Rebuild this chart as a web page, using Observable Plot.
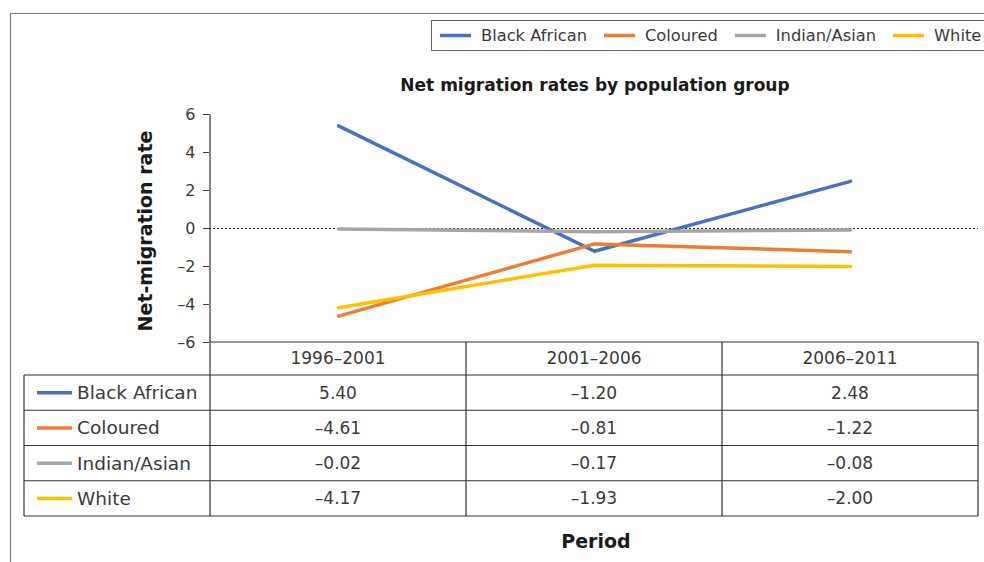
<!DOCTYPE html>
<html>
<head>
<meta charset="utf-8">
<script src="https://cdn.jsdelivr.net/npm/d3@7"></script>
<script src="https://cdn.jsdelivr.net/npm/@observablehq/plot@0.6"></script>
<style>
  html, body { margin: 0; padding: 0; background: #fff; }
  #chart svg { display: block; }
</style>
</head>
<body>
<div id="chart"></div>
<script>
// Net migration rates by population group, three census periods
const periods = ["1996–2001", "2001–2006", "2006–2011"];
const groups = ["Black African", "Coloured", "Indian/Asian", "White"];
const blackAfrican = [5.40, -1.20, 2.48];
const coloured = [-4.61, -0.81, -1.22];
const indianAsian = [-0.02, -0.17, -0.08];
const white = [-4.17, -1.93, -2.00];
const groupColors = ["#4472C4", "#ED7D31", "#A5A5A5", "#FFC000"];
const yTicks = [-6, -4, -2, 0, 2, 4, 6];

const seriesValues = [blackAfrican, coloured, indianAsian, white];
const rows = groups.flatMap((g, i) =>
  periods.map((p, j) => ({ group: g, period: p, value: seriesValues[i][j] }))
);

const dash = "\u2013";
const fmtTick = v => (v < 0 ? dash : "") + Math.abs(v);
const fmtNum = v => (v < 0 ? dash : "") + Math.abs(v).toFixed(2);

const FONT = "DejaVu Sans";
const INK = "#3a3a3a";

const plot = Plot.plot({
  width: 984,
  height: 562,
  marginLeft: 209,
  marginRight: 6,
  marginTop: 114,
  marginBottom: 220,
  style: { fontFamily: FONT, fontSize: "16px", color: INK, background: "#fff" },
  x: { type: "point", domain: periods, padding: 0.5, axis: null },
  y: { domain: [-6, 6], ticks: yTicks, tickFormat: fmtTick, label: null, axis: null },
  color: { domain: groups, range: groupColors },
  marks: [
    Plot.axisY(yTicks, { tickSize: 6, tickPadding: 8, fontSize: 16, tickFormat: fmtTick, label: null }),
    Plot.ruleY([0], { stroke: "#222", strokeDasharray: "2,2", strokeWidth: 1 }),
    Plot.line(rows, {
      x: "period", y: "value", z: "group", stroke: "group",
      strokeWidth: 3.5, strokeLinecap: "round", strokeLinejoin: "round"
    })
  ]
});

document.getElementById("chart").appendChild(plot);

const svg = d3.select(plot);
const xs = plot.scale("x");
const ys = plot.scale("y");
const step = xs.apply(periods[1]) - xs.apply(periods[0]);
const colLeft = xs.apply(periods[0]) - step / 2;
const colRight = xs.apply(periods[periods.length - 1]) + step / 2;
const yBottom = ys.apply(-6);
const yTop = ys.apply(6);

// outer chart border (left and top edges visible)
const frame = svg.append("g").attr("stroke", "#7a7a7a").attr("stroke-width", 1.2).attr("fill", "none");
frame.append("line").attr("x1", 10.5).attr("x2", 10.5).attr("y1", 13.5).attr("y2", 562);
frame.append("line").attr("x1", 10).attr("x2", 984).attr("y1", 13.5).attr("y2", 13.5);

// legend box along the top
const legend = svg.append("g");
legend.append("rect").attr("x", 431.5).attr("y", 20.5).attr("width", 620).attr("height", 30)
  .attr("fill", "#fff").attr("stroke", "#666").attr("stroke-width", 1);
let lx = 440;
groups.forEach((g, i) => {
  legend.append("line").attr("x1", lx).attr("x2", lx + 31).attr("y1", 35.5).attr("y2", 35.5)
    .attr("stroke", groupColors[i]).attr("stroke-width", 3.5);
  const t = legend.append("text").attr("x", lx + 41).attr("y", 35.5).attr("dy", "0.35em")
    .attr("text-anchor", "start")
    .attr("font-family", FONT).attr("font-size", 16.3).attr("fill", INK).text(g);
  lx += 41 + t.node().getComputedTextLength() + 17;
});

// title
svg.append("text").attr("x", 595).attr("y", 85).attr("dy", "0.35em")
  .attr("text-anchor", "middle").attr("font-family", FONT).attr("font-weight", "bold")
  .attr("font-size", 17).attr("fill", "#1a1a1a").text("Net migration rates by population group");

// y-axis title
svg.append("text").attr("transform", "translate(145,231) rotate(-90)").attr("dy", "0.35em")
  .attr("text-anchor", "middle").attr("font-family", FONT).attr("font-weight", "bold")
  .attr("font-size", 19).attr("fill", "#1a1a1a").text("Net-migration rate");

// x-axis title
svg.append("text").attr("x", 596).attr("y", 541).attr("dy", "0.35em")
  .attr("text-anchor", "middle").attr("font-family", FONT).attr("font-weight", "bold")
  .attr("font-size", 19).attr("fill", "#1a1a1a").text("Period");

// data table beneath the plot
const headerBottom = yBottom + 33;
const rowH = 35.25;
const tableBottom = headerBottom + rowH * groups.length;
const tableLeft = 24;
const tg = svg.append("g");
const grid = tg.append("g").attr("stroke", "#333").attr("stroke-width", 1.2);
// vertical axis line running down through the table
grid.append("line").attr("x1", colLeft).attr("x2", colLeft).attr("y1", yTop).attr("y2", tableBottom);
// column separators
periods.forEach(p => {
  const xr = xs.apply(p) + step / 2;
  grid.append("line").attr("x1", xr).attr("x2", xr).attr("y1", yBottom).attr("y2", tableBottom);
});
grid.append("line").attr("x1", tableLeft).attr("x2", tableLeft).attr("y1", headerBottom).attr("y2", tableBottom);
// horizontal rules
grid.append("line").attr("x1", colLeft).attr("x2", colRight).attr("y1", yBottom).attr("y2", yBottom);
for (let r = 0; r <= groups.length; r++) {
  const yy = headerBottom + r * rowH;
  grid.append("line").attr("x1", tableLeft).attr("x2", colRight).attr("y1", yy).attr("y2", yy);
}
// header labels
periods.forEach(p => {
  tg.append("text").attr("x", xs.apply(p)).attr("y", (yBottom + headerBottom) / 2).attr("dy", "0.35em")
    .attr("text-anchor", "middle").attr("font-family", FONT).attr("font-size", 17).attr("fill", INK).text(p);
});
// rows: key, name, values
groups.forEach((g, i) => {
  const cy = headerBottom + (i + 0.5) * rowH;
  tg.append("line").attr("x1", 37).attr("x2", 72).attr("y1", cy).attr("y2", cy)
    .attr("stroke", groupColors[i]).attr("stroke-width", 3.5);
  tg.append("text").attr("x", 77).attr("y", cy).attr("dy", "0.35em")
    .attr("text-anchor", "start")
    .attr("font-family", FONT).attr("font-size", 18.5).attr("fill", INK).text(g);
  periods.forEach((p, j) => {
    tg.append("text").attr("x", xs.apply(p)).attr("y", cy).attr("dy", "0.35em")
      .attr("text-anchor", "middle").attr("font-family", FONT).attr("font-size", 17)
      .attr("fill", INK).text(fmtNum(seriesValues[i][j]));
  });
});
</script>
</body>
</html>
